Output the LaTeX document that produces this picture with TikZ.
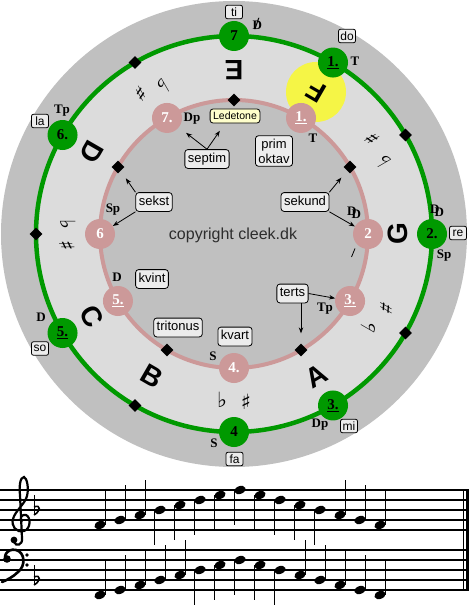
\documentclass[tikz,border=0pt]{standalone}
\usepackage{fontspec}
\setmainfont{Liberation Serif}
\setsansfont{Liberation Sans}
\newfontfamily\djv{DejaVu Sans}
\usetikzlibrary{shapes.geometric,arrows.meta,calc}
\definecolor{outgrey}{RGB}{192,192,192}
\definecolor{ltgrey}{RGB}{220,220,220}
\definecolor{ringgreen}{RGB}{0,153,0}
\definecolor{ringpink}{RGB}{204,153,153}
\definecolor{boxfill}{RGB}{236,236,236}
\definecolor{ledefill}{RGB}{255,255,204}
\definecolor{sunyellow}{RGB}{245,245,70}
\definecolor{copygrey}{RGB}{45,45,45}
\newcommand\DDsym{D\kern-5pt\raisebox{-2.5pt}{D}}
\newcommand\Dslash{\rlap{D}\kern2pt{\fontsize{17}{17}\selectfont /}}
\begin{document}
\begin{tikzpicture}[x=1pt,y=-1pt,
  gnode/.style={circle, fill=ringgreen, minimum size=30pt, inner sep=0pt, font=\fontsize{15}{15}\selectfont\bfseries},
  pnode/.style={circle, fill=ringpink, minimum size=30pt, inner sep=0pt, text=white, font=\fontsize{15}{15}\selectfont\bfseries},
  dia/.style={diamond, fill=black, minimum size=13pt, inner sep=0pt},
  fn/.style={inner sep=0pt, font=\fontsize{13}{13}\selectfont\bfseries},
  solf/.style={draw, line width=0.8pt, rounded corners=2pt, fill=boxfill, minimum width=17pt, minimum height=13.5pt, inner sep=1pt, font=\sffamily\fontsize{12}{12}\selectfont},
  ibox/.style={draw, line width=0.8pt, rounded corners=3pt, fill=boxfill, inner xsep=3pt, inner ysep=3.3pt, text height=9.5pt, text depth=2.7pt, font=\sffamily\fontsize{13}{13}\selectfont},
  bigl/.style={inner sep=0pt, font=\sffamily\bfseries\fontsize{28}{28}\selectfont},
  acc/.style={inner sep=0pt, font=\djv\fontsize{21}{21}\selectfont},
  arr/.style={-{Stealth[length=6pt,width=4.5pt]}, line width=0.8pt},
  staffline/.style={line width=1.3pt},
  stem/.style={line width=1.2pt}
]
\useasboundingbox (0,0) rectangle (469,615);
\fill[white] (0,0) rectangle (469,615);
% ---------------- wheel ----------------
\begin{scope}[shift={(234,234)}]
  \fill[outgrey] (0,0) circle[radius=233pt];
  \fill[ltgrey] (0,0) circle[radius=198pt];
  \fill[outgrey] (0,0) circle[radius=134pt];
  \fill[sunyellow] (60:164pt) circle[radius=30pt];
  \draw[ringgreen, line width=4.5pt] (0,0) circle[radius=198pt];
  \draw[ringpink, line width=4pt] (0,0) circle[radius=134pt];
  % letters
  \node[bigl, rotate=180] (lE) at (90:164pt) {E};
  \node[bigl, rotate=150] (lF) at (60:164pt) {F};
  \node[bigl, rotate=90]  (lG) at (0:164pt) {G};
  \node[bigl, rotate=30]  (lA) at (-60:164pt) {A};
  \node[bigl, rotate=-30] (lB) at (-120:164pt) {B};
  \node[bigl, rotate=-60] (lC) at (210:164pt) {C};
  \node[bigl, rotate=-120] (lD) at (150:164pt) {D};
  % green diamonds
  \node[dia] (gd120) at (120:198pt) {};
  \node[dia] (gd30) at (30:198pt) {};
  \node[dia] (gdm30) at (-30:198pt) {};
  \node[dia] (gdm120) at (-120:198pt) {};
  \node[dia] (gd180) at (180:198pt) {};
  % green nodes
  \node[gnode] (g7) at (90:198pt) {7};
  \node[gnode] (g1) at (60:198pt) {\underline{1.}};
  \node[gnode] (g2) at (0:198pt) {2.};
  \node[gnode] (g3) at (-60:198pt) {\underline{3.}};
  \node[gnode] (g4) at (-90:198pt) {4};
  \node[gnode] (g5) at (210:198pt) {\underline{5.}};
  \node[gnode] (g6) at (150:198pt) {6.};
  % pink diamonds
  \node[dia] (pd90) at (90:134pt) {};
  \node[dia] (pd30) at (30:134pt) {};
  \node[dia] (pdm60) at (-60:134pt) {};
  \node[dia] (pdm120) at (-120:134pt) {};
  \node[dia] (pd150) at (150:134pt) {};
  % pink nodes
  \node[pnode] (p7) at (120:134pt) {7.};
  \node[pnode] (p1) at (60:134pt) {\underline{1.}};
  \node[pnode] (p2) at (0:134pt) {2};
  \node[pnode] (p3) at (-30:134pt) {\underline{3.}};
  \node[pnode] (p4) at (-90:134pt) {4.};
  \node[pnode] (p5) at (210:134pt) {\underline{5.}};
  \node[pnode] (p6) at (180:134pt) {6};
\end{scope}
% accidentals
\node[acc, rotate=210] (a1) at (141,94) {♯};
\node[acc, rotate=210] (a2) at (163,87) {♭};
\node[acc, rotate=120] (a3) at (372,139) {♯};
\node[acc, rotate=120] (a4) at (383,161) {♭};
\node[acc, rotate=60] (a5) at (386,308) {♯};
\node[acc, rotate=60] (a6) at (369,326) {♭};
\node[acc] (a7) at (222,400) {♭};
\node[acc] (a8) at (246,402) {♯};
\node[acc, rotate=270] (a9) at (68,224) {♭};
\node[acc, rotate=270] (a10) at (67,246) {♯};
\draw[line width=0.8pt] (351.5,257) -- (355,248.5);
% function labels, green ring
\node[fn] (fT) at (355,61) {T};
\node[fn] (fDD) at (437,211) {\DDsym};
\node[fn] (fSp) at (444,256) {Sp};
\node[fn] (fDp) at (320,425) {Dp};
\node[fn] (fS) at (214,443) {S};
\node[fn] (fD) at (41,317) {D};
\node[fn] (fTp) at (62,111) {Tp};
\node[fn] (fDs) at (256,24) {\Dslash};
% function labels, pink ring
\node[fn] (qDp) at (192,119) {Dp};
\node[fn] (qT) at (313,138) {T};
\node[fn] (qDD) at (354,213) {\DDsym};
\node[fn] (qTp) at (325,309) {Tp};
\node[fn] (qS) at (213,356) {S};
\node[fn] (qD) at (117,277) {D};
\node[fn] (qSp) at (113,210) {Sp};
% solfege boxes
\node[solf] (sti) at (234,12) {ti};
\node[solf] (sdo) at (347,36) {do};
\node[solf] (sre) at (458,233) {re};
\node[solf] (smi) at (349,426) {mi};
\node[solf] (sfa) at (234.5,459) {fa};
\node[solf] (sso) at (40,348.5) {so};
\node[solf] (sla) at (40,121) {la};
% interval boxes
\node[ibox, fill=ledefill, font=\sffamily\fontsize{10.5}{10.5}\selectfont, text height=7.8pt, text depth=0.3pt, inner ysep=3pt] (lede) at (235,116) {Ledetone};
\node[ibox] (sept) at (207,159) {septim};
\node[draw, line width=0.8pt, rounded corners=3pt, fill=boxfill, inner xsep=3pt, inner ysep=3pt, align=center, font=\sffamily\fontsize{13}{15}\selectfont] (prim) at (274,151) {prim\\oktav};
\node[ibox] (sekund) at (305,202) {sekund};
\node[ibox] (sekst) at (154,202) {sekst};
\node[ibox] (kvint) at (152,279) {kvint};
\node[ibox] (trit) at (178,327.5) {tritonus};
\node[ibox] (kvart) at (235,336.5) {kvart};
\node[ibox] (terts) at (292.5,293.5) {terts};
\node[font=\sffamily\fontsize{16}{16}\selectfont, text=copygrey] (copy) at (233,235) {copyright cleek.dk};
% arrows
\draw[arr, shorten >=9pt] (sept.north) -- (p7);
\draw[arr, shorten >=9pt] (sept.north) -- ($(lede.south)+(-10,0)$);
\draw[arr, shorten >=9pt] (sekst.north west) -- (pd150);
\draw[arr] (sekst.south west) -- (p6);
\draw[arr, shorten >=9pt] (sekund.north east) -- (pd30);
\draw[arr] (sekund.south east) -- (p2);
\draw[arr] (terts.east) -- (p3);
\draw[arr, shorten >=10pt] (terts.south -| pdm60) -- (pdm60);
% ---------------- staves ----------------
\foreach \yy in {490,500,510,520,530,550,560,570,580,590}
  \draw[staffline] (0,\yy) -- (466,\yy);
\draw[line width=1pt] (463.5,489.4) -- (463.5,590.6);
\draw[line width=3pt] (467.5,489.4) -- (467.5,590.6);
% treble clef
\draw[line width=2.2pt, line cap=round] (22,521) .. controls (19,518) and (22,514) .. (26,515)
  .. controls (31,517) and (31,529) .. (24,531)
  .. controls (16,533) and (11,526) .. (13,519)
  .. controls (15,511) and (25,504) .. (27,496)
  .. controls (29,488) and (27,478) .. (24,477)
  .. controls (20,477) and (19,487) .. (20,495)
  -- (22,538)
  .. controls (23,545) and (16,547) .. (14,542);
\fill (14,540) circle[radius=3.4pt];
% bass clef
\fill (7,559) circle[radius=3.8pt];
\draw[line width=2.6pt, line cap=round] (5,557) .. controls (6,550) and (12,549) .. (16,550)
  .. controls (25,552) and (26,566) .. (18,572)
  .. controls (13,577) and (7,580) .. (2,582);
\fill (27,555) circle[radius=1.9pt];
\fill (27,565) circle[radius=1.9pt];
% key signature flats
\draw[line width=1pt] (34,495) -- (34,515);
\draw[line width=1.6pt] (34,515) .. controls (41,511) and (41,504) .. (34,507);
\draw[line width=1pt] (34,565) -- (34,585);
\draw[line width=1.6pt] (34,585) .. controls (41,581) and (41,574) .. (34,577);
% treble notes
\foreach \yy [count=\i from 0] in {525,520,515,510,505,500,495,490,495,500,505,510,515,520,525} {
  \pgfmathsetmacro\xx{100+20*\i}
  \fill[rotate around={20:(\xx,\yy)}] (\xx,\yy) ellipse[x radius=5.8pt, y radius=3.9pt];
  \ifnum\yy>510 \draw[stem] (\xx+5.2,\yy) -- (\xx+5.2,\yy-35);
  \else \draw[stem] (\xx-5.2,\yy) -- (\xx-5.2,\yy+35); \fi
}
% bass notes
\foreach \yy [count=\i from 0] in {595,590,585,580,575,570,565,560,565,570,575,580,585,590,595} {
  \pgfmathsetmacro\xx{100+20*\i}
  \fill[rotate around={20:(\xx,\yy)}] (\xx,\yy) ellipse[x radius=5.8pt, y radius=3.9pt];
  \ifnum\yy>570 \draw[stem] (\xx+5.2,\yy) -- (\xx+5.2,\yy-35);
  \else \draw[stem] (\xx-5.2,\yy) -- (\xx-5.2,\yy+35); \fi
}
\end{tikzpicture}
\end{document}
